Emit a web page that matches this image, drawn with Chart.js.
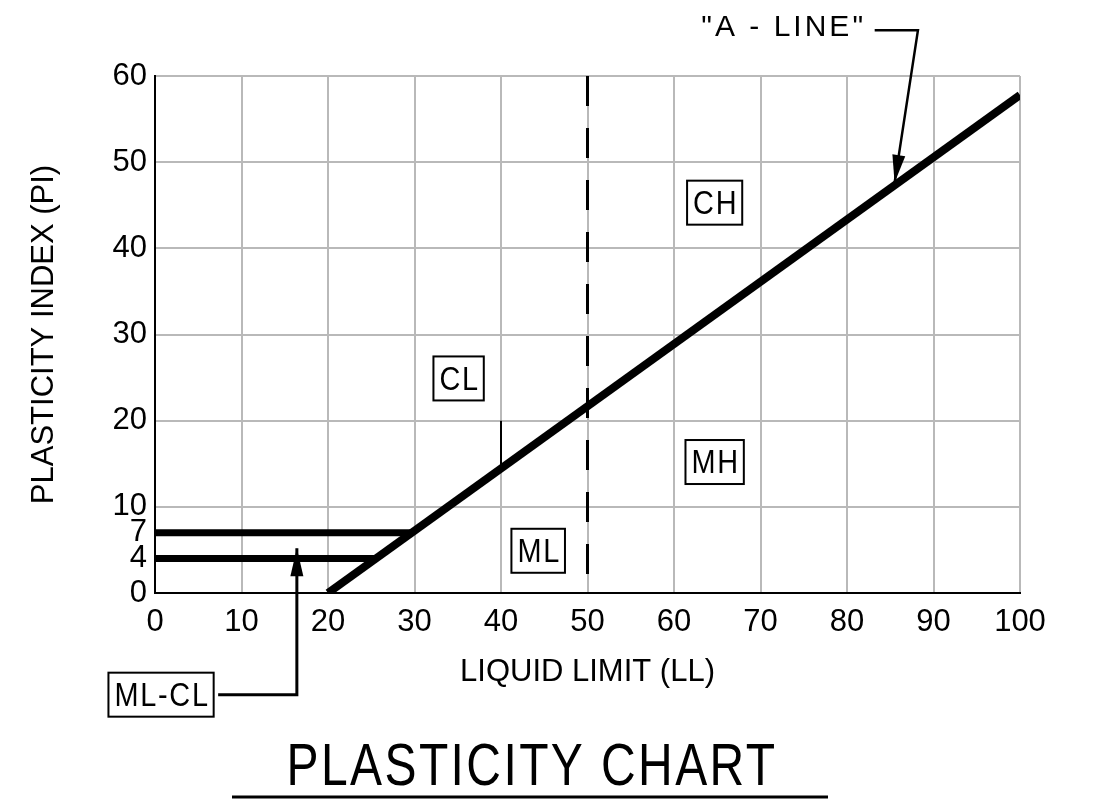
<!DOCTYPE html>
<html>
<head>
<meta charset="utf-8">
<title>Plasticity Chart</title>
<script src="https://cdn.jsdelivr.net/npm/chart.js@4.4.1/dist/chart.umd.min.js"></script>
<style>
  html, body { margin: 0; padding: 0; background: #fff; }
  #wrap { width: 1106px; height: 808px; }
</style>
</head>
<body>
<div id="wrap"><canvas id="plasticityChart" width="1106" height="808"></canvas></div>
<script>
// axis ticks
const llTicks = [0, 10, 20, 30, 40, 50, 60, 70, 80, 90, 100];
const piTicks = [0, 4, 7, 10, 20, 30, 40, 50, 60];

// "A-line"
const aLineLL = [20, 100];
const aLinePI = [0, 57.8];
// ML-CL band limits
const pi7LL = [0, 29.6];
const pi7PI = [7, 7];
const pi4LL = [0, 25.5];
const pi4PI = [4, 4];
// LL = 50 divide (dashed)
const ll50LL = [50, 50];
const ll50PI = [60, 0];
// short piece at LL = 40 above the A-line
const ll40LL = [40, 40];
const ll40PI = [20, 14.6];

// boxed zone labels
const zoneNames = ['CL', 'CH', 'MH', 'ML', 'ML-CL'];
const zoneLL = [35.1, 64.7, 64.7, 44.3, 0.7];
const zonePI = [24.9, 45.3, 15.2, 4.9, -11.8];

// leader arrows
const mlclArrowLL = [7.3, 16.4, 16.4];
const mlclArrowPI = [-11.8, -11.8, 5.2];
const aLineArrowLL = [83.2, 88.2, 85.5];
const aLineArrowPI = [65.3, 65.3, 47.6];
const aLineText = '"A - LINE"';
const aLineTextLL = 82.2;
const aLineTextPI = 65.6;

const chartTitle = 'PLASTICITY CHART';

function toPoints(xs, ys) {
    return xs.map((x, i) => ({ x: x, y: ys[i] }));
}

function lineSet(xs, ys, width, dash) {
    return {
        data: toPoints(xs, ys),
        showLine: true,
        borderColor: '#000',
        borderWidth: width,
        borderDash: dash || [],
        pointRadius: 0,
        pointHoverRadius: 0,
        fill: false,
        tension: 0
    };
}

function drawLeader(ctx, pts, width) {
    ctx.lineWidth = width;
    ctx.beginPath();
    ctx.moveTo(pts[0][0], pts[0][1]);
    for (let i = 1; i < pts.length; i++) ctx.lineTo(pts[i][0], pts[i][1]);
    ctx.stroke();
    // arrow head at the last point
    const [x1, y1] = pts[pts.length - 2];
    const [x2, y2] = pts[pts.length - 1];
    const ang = Math.atan2(y2 - y1, x2 - x1);
    const len = 28, half = 6.5;
    ctx.beginPath();
    ctx.moveTo(x2, y2);
    ctx.lineTo(x2 - len * Math.cos(ang) + half * Math.sin(ang), y2 - len * Math.sin(ang) - half * Math.cos(ang));
    ctx.lineTo(x2 - len * Math.cos(ang) - half * Math.sin(ang), y2 - len * Math.sin(ang) + half * Math.cos(ang));
    ctx.closePath();
    ctx.fill();
}

// narrow text: drawn with a horizontal squeeze
function narrowText(ctx, text, x, y, squeeze) {
    ctx.save();
    ctx.scale(squeeze, 1);
    ctx.fillText(text, x / squeeze, y);
    ctx.restore();
}

const annotations = {
    id: 'annotations',
    afterDatasetsDraw(chart) {
        const { ctx, scales: { x, y } } = chart;
        const px = v => x.getPixelForValue(v);
        const py = v => y.getPixelForValue(v);
        ctx.save();
        ctx.fillStyle = '#000';
        ctx.strokeStyle = '#000';

        // zone boxes
        const sq = 0.85;
        ctx.font = '34px "Liberation Sans", sans-serif';
        ctx.textAlign = 'center';
        ctx.textBaseline = 'middle';
        ctx.letterSpacing = '2px';
        zoneNames.forEach((name, i) => {
            const cx = px(zoneLL[i]);
            const cy = py(zonePI[i]);
            const w = ctx.measureText(name).width * sq + 10;
            const h = 44;
            ctx.lineWidth = 2;
            ctx.strokeRect(cx - w / 2, cy - h / 2, w, h);
            narrowText(ctx, name, cx + 1, cy + 2, sq);
        });

        // leaders
        drawLeader(ctx, mlclArrowLL.map((v, i) => [px(v), py(mlclArrowPI[i])]), 3);
        drawLeader(ctx, aLineArrowLL.map((v, i) => [px(v), py(aLineArrowPI[i])]), 2.5);

        // "A - LINE" text
        ctx.font = '30px "Liberation Sans", sans-serif';
        ctx.textAlign = 'right';
        ctx.letterSpacing = '3px';
        ctx.fillText(aLineText, px(aLineTextLL), py(aLineTextPI));

        // title with underline
        ctx.font = '60px "Liberation Sans", sans-serif';
        ctx.textAlign = 'center';
        ctx.textBaseline = 'alphabetic';
        ctx.letterSpacing = '3px';
        narrowText(ctx, chartTitle, 532, 785, 0.8);
        ctx.lineWidth = 3;
        ctx.beginPath();
        ctx.moveTo(232, 797);
        ctx.lineTo(828, 797);
        ctx.stroke();
        ctx.restore();
    }
};

const gridGray = '#b9b9b9';

new Chart(document.getElementById('plasticityChart'), {
    type: 'scatter',
    data: {
        datasets: [
            lineSet(ll40LL, ll40PI, 2),
            lineSet(ll50LL, ll50PI, 3, [30, 22]),
            lineSet(pi4LL, pi4PI, 7),
            lineSet(pi7LL, pi7PI, 7),
            lineSet(aLineLL, aLinePI, 8)
        ]
    },
    options: {
        responsive: false,
        animation: false,
        devicePixelRatio: 1,
        layout: { padding: { top: 76, right: 86, left: 0, bottom: 0 } },
        plugins: {
            legend: { display: false },
            tooltip: { enabled: false },
            title: { display: false }
        },
        scales: {
            x: {
                type: 'linear',
                min: 0,
                max: 100,
                afterBuildTicks: scale => { scale.ticks = llTicks.map(v => ({ value: v })); },
                afterFit: scale => { scale.height = 215; },
                grid: { color: gridGray, lineWidth: 2, drawTicks: false },
                border: { display: true, color: '#000', width: 2 },
                ticks: {
                    color: '#000',
                    padding: 11,
                    maxRotation: 0,
                    autoSkip: false,
                    font: { family: '"Liberation Sans", sans-serif', size: 31 }
                },
                title: {
                    display: true,
                    text: 'LIQUID LIMIT (LL)',
                    color: '#000',
                    font: { family: '"Liberation Sans", sans-serif', size: 31 },
                    padding: { top: 0, bottom: 117 }
                }
            },
            y: {
                type: 'linear',
                min: 0,
                max: 60,
                afterBuildTicks: scale => { scale.ticks = piTicks.map(v => ({ value: v })); },
                afterFit: scale => { scale.width = 155; },
                grid: {
                    color: ctx => (ctx.tick && ctx.tick.value % 10 !== 0) ? 'rgba(0,0,0,0)' : gridGray,
                    lineWidth: 2,
                    drawTicks: false
                },
                border: { display: true, color: '#000', width: 2 },
                ticks: {
                    color: '#000',
                    padding: 8,
                    autoSkip: false,
                    font: { family: '"Liberation Sans", sans-serif', size: 31 }
                },
                title: {
                    display: true,
                    text: 'PLASTICITY INDEX (PI)',
                    color: '#000',
                    font: { family: '"Liberation Sans", sans-serif', size: 31 },
                    padding: { top: 26, bottom: 0 }
                }
            }
        }
    },
    plugins: [annotations]
});
</script>
</body>
</html>
